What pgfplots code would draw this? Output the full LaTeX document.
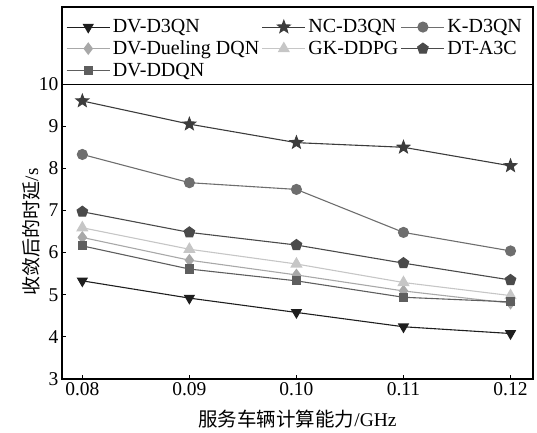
\documentclass[border=0pt]{standalone}
\usepackage{pgfplots}
\pgfplotsset{compat=1.18}
\usetikzlibrary{plotmarks}
\usepackage{fontspec}
\setmainfont{Liberation Serif}
\newfontfamily\cjk{Noto Sans CJK SC}

% filled five-pointed star
\pgfdeclareplotmark{fstar}{%
  \pgfpathmoveto{\pgfpointpolar{90}{\pgfplotmarksize}}%
  \pgfpathlineto{\pgfpointpolar{126}{0.42\pgfplotmarksize}}%
  \pgfpathlineto{\pgfpointpolar{162}{\pgfplotmarksize}}%
  \pgfpathlineto{\pgfpointpolar{198}{0.42\pgfplotmarksize}}%
  \pgfpathlineto{\pgfpointpolar{234}{\pgfplotmarksize}}%
  \pgfpathlineto{\pgfpointpolar{270}{0.42\pgfplotmarksize}}%
  \pgfpathlineto{\pgfpointpolar{306}{\pgfplotmarksize}}%
  \pgfpathlineto{\pgfpointpolar{342}{0.42\pgfplotmarksize}}%
  \pgfpathlineto{\pgfpointpolar{18}{\pgfplotmarksize}}%
  \pgfpathlineto{\pgfpointpolar{54}{0.42\pgfplotmarksize}}%
  \pgfpathclose
  \pgfusepathqfillstroke
}

\definecolor{cA}{HTML}{1E1E1E}
\definecolor{cB}{HTML}{3C3C3C}
\definecolor{cC}{HTML}{6E6E6E}
\definecolor{cD}{HTML}{A8A8A8}
\definecolor{cE}{HTML}{C6C6C6}
\definecolor{cF}{HTML}{4A4A4A}
\definecolor{cG}{HTML}{5E5E5E}

\begin{document}
\begin{tikzpicture}
\begin{axis}[
  scale only axis,
  width=471pt, height=372pt,
  xmin=0.0781, xmax=0.1221,
  ymin=3, ymax=11.83,
  xtick={0.08,0.09,0.10,0.11,0.12},
  xticklabels={0.08,0.09,0.10,0.11,0.12},
  ytick={3,4,5,6,7,8,9,10},
  tick align=inside,
  xtick pos=bottom, ytick pos=left,
  major tick length=4pt,
  /pgf/number format/assume math mode=true,
  tick label style={font=\fontsize{19.5}{22}\selectfont},
  axis line style={line width=1.1pt},
  every tick/.style={line width=0.9pt, black},
  xlabel={{\cjk 服务车辆计算能力}/GHz},
  xlabel style={font=\fontsize{19.5}{22}\selectfont, at={(axis description cs:0.5,0)}, anchor=center, yshift=-40pt},
  ylabel={{\cjk 收敛后的时延}/s},
  ylabel style={font=\fontsize{19}{22}\selectfont, at={(axis description cs:0,0.396)}, anchor=center, rotate=0, yshift=31pt},
  legend columns=3,
  legend cell align=left,
  legend style={
    at={(rel axis cs:0,1)}, anchor=north west,
    draw=none, fill=none,
    font=\fontsize{20}{22}\selectfont,
    inner xsep=4pt, inner ysep=11pt,
    nodes={inner xsep=2.5pt, inner ysep=1.5pt},
    /tikz/every even column/.append style={column sep=0pt},
    /tikz/every odd column/.append style={column sep=0pt},
    row sep=3.5pt,
  },
  legend image code/.code={
    \draw[mark repeat=2, mark phase=2] plot coordinates {(0pt,0pt) (21.5pt,0pt) (43pt,0pt)};
  },
  every axis plot/.append style={line width=1.1pt},
]
% DV-D3QN
\addplot[color=cA, mark=triangle*, mark size=5.5pt, mark options={rotate=180, solid}]
  coordinates {(0.08,5.33) (0.09,4.92) (0.10,4.58) (0.11,4.24) (0.12,4.08)};
\addlegendentry{DV-D3QN}
% NC-D3QN
\addplot[color=cB, mark=fstar, mark size=6.5pt]
  coordinates {(0.08,9.60) (0.09,9.05) (0.10,8.61) (0.11,8.50) (0.12,8.06)};
\addlegendentry{NC-D3QN}
% K-D3QN
\addplot[color=cC, mark=*, mark size=5pt]
  coordinates {(0.08,8.33) (0.09,7.66) (0.10,7.50) (0.11,6.48) (0.12,6.04)};
\addlegendentry{K-D3QN}
% DV-Dueling DQN
\addplot[color=cD, mark=diamond*, mark size=5.5pt]
  coordinates {(0.08,6.36) (0.09,5.82) (0.10,5.47) (0.11,5.09) (0.12,4.80)};
\addlegendentry{DV-Dueling DQN}
% GK-DDPG
\addplot[color=cE, mark=triangle*, mark size=6pt]
  coordinates {(0.08,6.59) (0.09,6.08) (0.10,5.73) (0.11,5.29) (0.12,4.98)};
\addlegendentry{GK-DDPG}
% DT-A3C
\addplot[color=cF, mark=pentagon*, mark size=5.5pt]
  coordinates {(0.08,6.97) (0.09,6.48) (0.10,6.18) (0.11,5.75) (0.12,5.35)};
\addlegendentry{DT-A3C}
% DV-DDQN
\addplot[color=cG, mark=square*, mark size=4pt]
  coordinates {(0.08,6.16) (0.09,5.61) (0.10,5.33) (0.11,4.94) (0.12,4.83)};
\addlegendentry{DV-DDQN}
% rule under the legend
\draw[line width=1.1pt] (axis cs:0.0781,10) -- (axis cs:0.1221,10);
\end{axis}
\pgfresetboundingbox
\path (current axis.south west) ++(-62pt,-53pt) coordinate (bbA);
\path (current axis.north east) ++(4pt,7pt) coordinate (bbB);
\useasboundingbox (bbA) rectangle (bbB);
\end{tikzpicture}
\end{document}
